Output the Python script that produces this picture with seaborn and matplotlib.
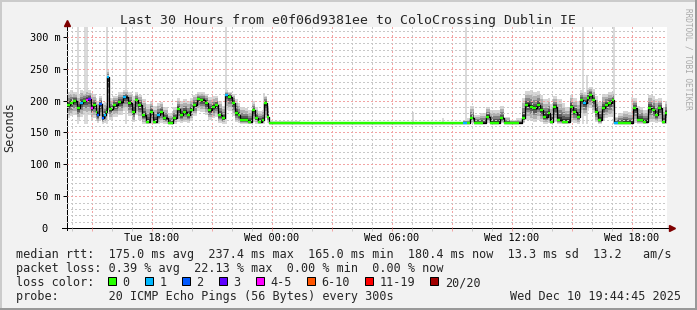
import matplotlib
matplotlib.use("Agg")
import numpy as np
import pandas as pd
import matplotlib.pyplot as plt
import seaborn as sns
from matplotlib.ticker import FixedLocator, FixedFormatter
from matplotlib.patches import Rectangle

# ---------------- data ----------------
start_hour = 13.75          # Tue 13:45 (hours since Tue 00:00)
end_hour = 43.75            # Wed 19:45

hours = [13.75, 13.90, 14.05, 14.25, 14.40, 14.55, 14.70, 14.80, 14.95, 15.05,
         15.20, 15.25, 15.35, 15.50, 15.60, 15.70, 15.75, 15.85, 16.05, 16.30,
         16.55, 16.80, 17.00, 17.15, 17.30, 17.50, 17.70, 17.90, 18.05, 18.25,
         18.40, 18.55, 18.80, 19.00, 19.05, 19.25, 19.40, 19.55, 19.75, 19.90,
         20.05, 20.25, 20.40, 20.65, 20.80, 21.00, 21.15, 21.30, 21.50, 21.65,
         21.80, 22.00, 22.15, 22.30, 22.40, 22.65, 22.80, 23.00, 23.15, 23.30,
         23.50, 23.60, 23.75, 23.85, 25.40, 27.40, 29.65,
         33.55, 33.75, 33.90, 34.10, 34.40, 34.70, 34.90, 35.20, 35.40, 35.60,
         35.90, 36.20, 36.50, 36.65, 36.90, 37.05, 37.25, 37.40, 37.55, 37.80,
         37.90, 38.05, 38.25, 38.50, 38.65, 38.90, 39.05, 39.25, 39.40, 39.55,
         39.75, 39.85, 40.00, 40.15, 40.30, 40.50, 40.65, 40.80, 41.00, 41.10,
         41.30, 41.55, 41.80, 42.05, 42.25, 42.40, 42.55, 42.80, 43.00, 43.15,
         43.30, 43.50, 43.65]

median_ms = [193, 196, 199, 188, 196, 199, 201, 203, 188, 193,
             182, 177, 195, 172, 177, 182, 237, 187, 193, 198,
             206, 196, 182, 201, 193, 177, 167, 182, 167, 177,
             182, 172, 165, 165, 172, 187, 177, 182, 177, 185,
             193, 203, 201, 196, 185, 190, 193, 177, 172, 209,
             206, 196, 180, 177, 170, 170, 167, 185, 172, 167,
             170, 196, 175, 165, 165, 165, 165,
             165, 165, 172, 165, 165, 175, 165, 165, 172, 165,
             165, 165, 172, 193, 190, 188, 193, 185, 175, 180,
             167, 190, 170, 167, 167, 190, 182, 175, 201, 196,
             204, 209, 201, 182, 170, 188, 193, 196, 201, 165,
             165, 165, 165, 188, 170, 170, 167, 188, 185, 177,
             188, 167, 180]

loss_idx = [0, 0, 0, 0, 1, 0, 4, 3, 4, 0,
            0, 2, 2, 2, 1, 0, 1, 0, 0, 0,
            1, 0, 0, 0, 0, 0, 0, 0, 0, 1,
            0, 0, 0, 0, 0, 0, 0, 0, 0, 0,
            0, 0, 0, 0, 0, 0, 0, 0, 0, 1,
            0, 0, 0, 0, 0, 0, 0, 0, 0, 0,
            0, 0, 0, 0, 0, 0, 0,
            1, 0, 0, 0, 0, 0, 0, 0, 0, 0,
            0, 0, 0, 0, 0, 0, 0, 0, 0, 0,
            0, 0, 0, 0, 0, 0, 0, 0, 0, 1,
            0, 0, 0, 0, 0, 0, 0, 0, 0, 1,
            0, 0, 0, 0, 0, 0, 0, 0, 0, 0,
            0, 0, 0]

smoke_hi_ms = [214, 216, 214, 210, 217, 215, 218, 216, 212, 210,
               204, 200, 208, 196, 198, 202, 248, 204, 208, 213,
               216, 214, 208, 213, 209, 202, 194, 200, 192, 196,
               198, 190, 180, 184, 190, 204, 200, 202, 200, 204,
               209, 213, 213, 211, 206, 207, 207, 200, 192, 216,
               214, 211, 202, 196, 190, 188, 186, 199, 190, 184,
               186, 208, 192, 168, 166, 166, 166,
               170, 172, 192, 178, 180, 190, 186, 186, 192, 175,
               170, 172, 204, 215, 216, 213, 215, 209, 202, 204,
               194, 207, 202, 196, 190, 209, 204, 200, 216, 214,
               220, 222, 218, 208, 198, 211, 211, 213, 214, 175,
               180, 184, 182, 204, 192, 190, 186, 209, 207, 202,
               204, 188, 200]

smoke_lo_ms = [173, 176, 178, 170, 174, 178, 176, 178, 170, 172,
               168, 165, 170, 164, 165, 166, 186, 170, 174, 178,
               184, 176, 166, 178, 170, 164, 164, 164, 164, 164,
               165, 164, 164, 164, 164, 166, 165, 166, 165, 168,
               176, 184, 182, 178, 170, 172, 174, 165, 164, 186,
               184, 176, 166, 165, 164, 164, 164, 166, 164, 164,
               164, 172, 165, 164, 164, 164, 164,
               164, 164, 165, 164, 164, 165, 164, 164, 165, 164,
               164, 164, 165, 170, 168, 166, 170, 166, 164, 165,
               164, 166, 164, 164, 164, 166, 165, 164, 180, 176,
               184, 188, 180, 166, 164, 168, 172, 174, 178, 164,
               164, 164, 164, 165, 164, 164, 164, 166, 166, 165,
               166, 164, 164]

spike_hours = [14.30, 14.65, 14.75, 15.75, 16.70, 21.70, 23.60, 31.05,
               32.55, 33.70, 39.55, 39.75, 41.10, 42.00]
spike_top_ms = [330, 330, 330, 330, 330, 330, 212, 182,
                172, 330, 330, 240, 330, 206]

x_tick_hours = [18, 24, 30, 36, 42]
x_tick_labels = ["Tue 18:00", "Wed 00:00", "Wed 06:00", "Wed 12:00", "Wed 18:00"]
y_ticks = [0, 50, 100, 150, 200, 250, 300]
y_tick_labels = ["0  ", "50 m", "100 m", "150 m", "200 m", "250 m", "300 m"]

loss_labels = ["0", "1", "2", "3", "4-5", "6-10", "11-19", "20/20"]
loss_colors = ["#26ff00", "#00b8ff", "#0059ff", "#5e00ff",
               "#ff00ff", "#ff5500", "#ff0000", "#a10000"]

title = "Last 30 Hours from e0f06d9381ee to ColoCrossing Dublin IE"
rtt_avg, rtt_max, rtt_min, rtt_now, rtt_sd, rtt_ams = 175.0, 237.4, 165.0, 180.4, 13.3, 13.2
loss_avg, loss_max, loss_min, loss_now = 0.39, 22.13, 0.00, 0.00
probe_text = "20 ICMP Echo Pings (56 Bytes) every 300s"
stamp_text = "Wed Dec 10 19:44:45 2025"

# ---------------- style ----------------
W, H, DPI = 697, 310, 100
BACK = "#f2f2f2"
SHADEA = "#cbcbcb"
SHADEB = "#999999"
MINOR = "#c8c8c8"
MAJOR = "#f2a4a4"
ARROW = "#7f0000"


def px(p):
    return p * 72.0 / DPI


sns.set_theme(style="white")
plt.rcParams["font.family"] = ["DejaVu Sans Mono"]
plt.rcParams["lines.scale_dashes"] = False

fig = plt.figure(figsize=(W / DPI, H / DPI), dpi=DPI, facecolor=BACK)
ax = fig.add_axes([67 / W, 1 - 228 / H, 600 / W, 201 / H])
ax.set_facecolor("white")

# outlier pings (light grey spikes)
ax.vlines(spike_hours, 164, spike_top_ms, colors="#d4d4d4", lw=px(1.7), zorder=1.5)

# smoke
t = np.array(hours + [end_hour])
med = np.array(median_ms + [median_ms[-1]], dtype=float)
hi = np.array(smoke_hi_ms + [smoke_hi_ms[-1]], dtype=float)
lo = np.array(smoke_lo_ms + [smoke_lo_ms[-1]], dtype=float)
layers = [(1.0, "#d6d6d6"), (0.75, "#b0b0b0"), (0.5, "#858585"),
          (0.3, "#585858"), (0.15, "#2c2c2c")]
for frac, gray in layers:
    ax.fill_between(t, med - frac * (med - lo), med + frac * (hi - med),
                    step="post", color=gray, lw=0, zorder=2)

# median line
df = pd.DataFrame({"hour": t, "median": med})
sns.lineplot(data=df, x="hour", y="median", drawstyle="steps-post",
             color="black", lw=px(1.3), estimator=None, sort=False,
             ax=ax, zorder=3)

# loss-coloured median marks
n = len(hours)
for i in range(n):
    t0 = hours[i]
    t1 = hours[i + 1] if i + 1 < n else end_hour
    if i + 1 < n and median_ms[i + 1] != median_ms[i]:
        t1 = min(t1, t0 + 0.16)
    ax.hlines(median_ms[i], t0, t1, colors=loss_colors[loss_idx[i]],
              lw=px(2.4), zorder=4)

# axes limits / ticks
ax.set_xlim(start_hour, end_hour)
ax.set_ylim(0, 315.7)
ax.set_xlabel("")
ax.set_ylabel("")

major_x = list(range(15, 43, 3))
lab_map = dict(zip(x_tick_hours, x_tick_labels))
ax.xaxis.set_major_locator(FixedLocator(major_x))
ax.xaxis.set_major_formatter(FixedFormatter([lab_map.get(h, "") for h in major_x]))
ax.xaxis.set_minor_locator(FixedLocator([h for h in range(14, 44) if h % 3]))
ax.yaxis.set_major_locator(FixedLocator(y_ticks))
ax.yaxis.set_major_formatter(FixedFormatter(y_tick_labels))
ax.yaxis.set_minor_locator(FixedLocator([v for v in range(10, 316, 10) if v % 50]))

ax.grid(True, which="minor", color=MINOR, linestyle=(0, (1, 2)), lw=1.0 * 72 / DPI,
        antialiased=False)
ax.grid(True, which="major", color=MAJOR, linestyle=(0, (1, 2)), lw=1.0 * 72 / DPI,
        antialiased=False)
ax.set_axisbelow(False)

ax.tick_params(axis="x", which="major", direction="out", length=px(3), width=px(1),
               color=MAJOR, pad=px(2), labelsize=7.43, labelcolor="black")
ax.tick_params(axis="x", which="minor", direction="out", length=px(3), width=px(1),
               color=MINOR)
ax.tick_params(axis="y", which="major", direction="out", length=px(4), width=px(1),
               color="black", pad=px(2.5), labelsize=7.43, labelcolor="black")
ax.tick_params(axis="y", which="minor", length=0)
ax.tick_params(bottom=True, left=True, which="both")

for side in ("top", "right"):
    ax.spines[side].set_visible(False)
for side in ("left", "bottom"):
    ax.spines[side].set_color("black")
    ax.spines[side].set_linewidth(px(1))
ax.spines["bottom"].set_bounds(start_hour - 0.25, end_hour + 0.1)
ax.spines["left"].set_bounds(-3, 318.5)

ax.plot([1 + 4.5 / 600], [0], marker=">", ms=px(6), color=ARROW,
        transform=ax.transAxes, clip_on=False, zorder=6)
ax.plot([0], [1 + 4.5 / 201], marker="^", ms=px(6), color=ARROW,
        transform=ax.transAxes, clip_on=False, zorder=6)

ax.set_ylabel("Seconds", fontsize=8.49)
ax.yaxis.set_label_coords(-(67 - 16) / 600, 0.5)

# ---------------- texts ----------------
fig.text(348.5 / W, 1 - 24 / H, title, ha="center", va="baseline", fontsize=9.55)
fig.text(688 / W, 1 - 59 / H, "RRDTOOL / TOBI OETIKER", rotation=270,
         ha="center", va="center", fontsize=5.6, color="#a8a8a8")

line1 = (f"median rtt:  {rtt_avg:.1f} ms avg  {rtt_max:.1f} ms max  "
         f"{rtt_min:.1f} ms min  {rtt_now:.1f} ms now  {rtt_sd:.1f} ms sd  "
         f"{rtt_ams:.1f}   am/s")
line2 = (f"packet loss: {loss_avg:.2f} % avg  {loss_max:.2f} % max  "
         f"{loss_min:.2f} % min  {loss_now:.2f} % now")
line4 = f"probe:       {probe_text}"
LFS = 8.49
fig.text(16 / W, 1 - 258 / H, line1, va="baseline", fontsize=LFS)
fig.text(16 / W, 1 - 272 / H, line2, va="baseline", fontsize=LFS)
fig.text(16 / W, 1 - 286 / H, "loss color:", va="baseline", fontsize=LFS)
fig.text(16 / W, 1 - 300 / H, line4, va="baseline", fontsize=LFS)
fig.text(681 / W, 1 - 300 / H, stamp_text, ha="right", va="baseline", fontsize=LFS)

xpos = 108.0
for lab, col in zip(loss_labels, loss_colors):
    fig.patches.append(Rectangle((xpos / W, 1 - 284.5 / H), 8 / W, 8 / H,
                                 transform=fig.transFigure, facecolor=col,
                                 edgecolor="black", lw=px(1)))
    fig.text((xpos + 14.6) / W, 1 - 286 / H, lab, va="baseline", fontsize=LFS)
    xpos = xpos + 14.6 + len(lab) * 7.1 + 15.2

# frame shading
fig.patches.append(Rectangle((0, 1 - 2 / H), 1, 2 / H, transform=fig.transFigure,
                             facecolor=SHADEA, lw=0))
fig.patches.append(Rectangle((0, 0), 2 / W, 1, transform=fig.transFigure,
                             facecolor=SHADEA, lw=0))
fig.patches.append(Rectangle((0, 0), 1, 2 / H, transform=fig.transFigure,
                             facecolor=SHADEB, lw=0))
fig.patches.append(Rectangle((1 - 2 / W, 0), 2 / W, 1, transform=fig.transFigure,
                             facecolor=SHADEB, lw=0))

fig.savefig("out.png", dpi=DPI, facecolor=BACK)
